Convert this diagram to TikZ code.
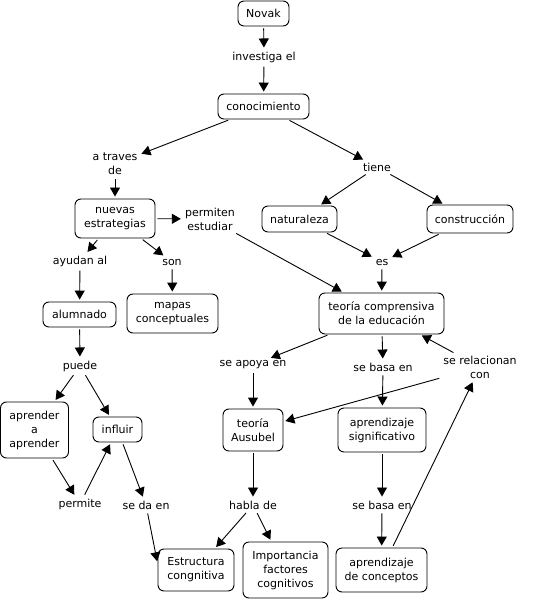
\documentclass[tikz,border=0pt]{standalone}
\usepackage{fontspec}
\setmainfont{DejaVu Sans}
\usetikzlibrary{arrows.meta}
\begin{document}
\begin{tikzpicture}[x=1pt,y=-1pt,
  concept/.style={draw, rounded corners=6pt, line width=0.9pt, fill=white, align=center, inner sep=2pt, font=\fontsize{11}{14}\selectfont},
  linkword/.style={align=center, inner sep=2pt, font=\fontsize{11}{14}\selectfont},
  conn/.style={line width=0.9pt, -{Triangle[length=9pt,width=10pt]}, shorten <=2pt, shorten >=2pt}]
\useasboundingbox (0,0) rectangle (545,601);
% concepts
\node[concept, minimum width=51pt, minimum height=25pt] (novak) at (263.5,13.5) {Novak};
\node[concept, minimum width=91pt, minimum height=25pt] (conoc) at (263.5,106.5) {conocimiento};
\node[concept, minimum width=80pt, minimum height=39pt] (nuevas) at (115,218.5) {nuevas\\estrategias};
\node[concept, minimum width=75pt, minimum height=26pt] (natur) at (299.5,219) {naturaleza};
\node[concept, minimum width=86pt, minimum height=28pt] (constr) at (470,219) {construcción};
\node[concept, minimum width=73pt, minimum height=25pt] (alumn) at (79.5,314.5) {alumnado};
\node[concept, minimum width=91pt, minimum height=39pt] (mapas) at (172.5,313.5) {mapas\\conceptuales};
\node[concept, minimum width=125pt, minimum height=41pt] (teoria) at (381.5,313.5) {teoría comprensiva\\de la educación};
\node[concept, minimum width=68pt, minimum height=56pt] (aprender) at (34.5,430) {aprender\\a\\aprender};
\node[concept, minimum width=49pt, minimum height=25pt] (influir) at (117.5,429.5) {influir};
\node[concept, minimum width=60pt, minimum height=42pt] (ausubel) at (253,430) {teoría\\Ausubel};
\node[concept, minimum width=88pt, minimum height=44pt] (signif) at (382,430) {aprendizaje\\significativo};
\node[concept, minimum width=76pt, minimum height=42pt] (estr) at (196,570) {Estructura\\congnitiva};
\node[concept, minimum width=85pt, minimum height=56pt] (import) at (285.5,570) {Importancia\\factores\\cognitivos};
\node[concept, minimum width=91pt, minimum height=44pt] (concep) at (381.5,570) {aprendizaje\\de conceptos};
% linking words
\node[linkword] (investiga) at (264,57) {investiga el};
\node[linkword] (atraves) at (115,164) {a traves\\de};
\node[linkword] (tiene) at (377,167) {tiene};
\node[linkword] (permiten) at (210,219) {permiten\\estudiar};
\node[linkword] (ayudan) at (80,261) {ayudan al};
\node[linkword] (son) at (172,262) {son};
\node[linkword] (es) at (382,262) {es};
\node[linkword] (puede) at (80,366) {puede};
\node[linkword] (apoya) at (253,365) {se apoya en};
\node[linkword] (basa1) at (383,367) {se basa en};
\node[linkword] (relac) at (480,367) {se relacionan\\con};
\node[linkword] (permite) at (80,504) {permite};
\node[linkword] (seda) at (146,505) {se da en};
\node[linkword] (habla) at (253,505) {habla de};
\node[linkword] (basa2) at (382,505) {se basa en};
% connectors
\draw[conn] (novak) -- (investiga);
\draw[conn] (investiga) -- (conoc);
\draw[conn] (conoc) -- (atraves);
\draw[conn] (conoc) -- (tiene);
\draw[conn] (atraves) -- (nuevas);
\draw[conn] (tiene) -- (natur);
\draw[conn] (tiene) -- (constr);
\draw[conn] (nuevas) -- (permiten);
\draw[conn] (nuevas) -- (ayudan);
\draw[conn] (nuevas) -- (son);
\draw[conn] (permiten) -- (teoria);
\draw[conn] (natur) -- (es);
\draw[conn] (constr) -- (es);
\draw[conn] (ayudan) -- (alumn);
\draw[conn] (son) -- (mapas);
\draw[conn] (es) -- (teoria);
\draw[conn] (alumn) -- (puede);
\draw[conn] (teoria) -- (apoya);
\draw[conn] (teoria) -- (basa1);
\draw[conn] (relac) -- (teoria);
\draw[conn] (relac) -- (ausubel);
\draw[conn] (concep) -- (relac);
\draw[conn] (puede) -- (aprender.55);
\draw[conn] (puede) -- (influir);
\draw[conn] (aprender) -- (permite);
\draw[conn] (permite) -- (influir);
\draw[conn] (influir) -- (seda);
\draw[conn] (seda) -- (estr.170);
\draw[conn] (apoya) -- (ausubel);
\draw[conn] (ausubel) -- (habla);
\draw[conn] (habla) -- (estr);
\draw[conn] (habla) -- (import);
\draw[conn] (basa1) -- (signif);
\draw[conn] (signif) -- (basa2);
\draw[conn] (basa2) -- (concep);
\end{tikzpicture}
\end{document}
